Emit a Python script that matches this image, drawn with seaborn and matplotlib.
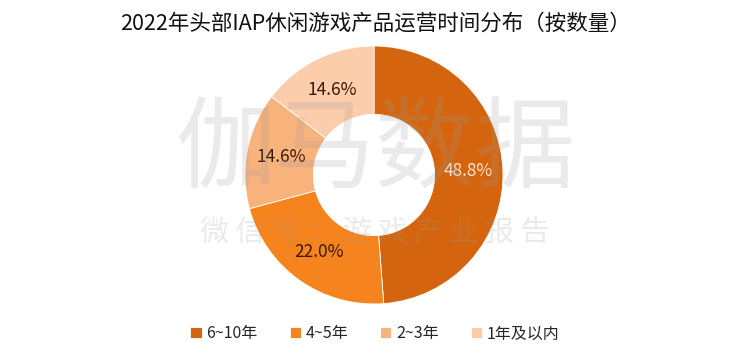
import matplotlib
matplotlib.use("Agg")
import matplotlib.pyplot as plt
import seaborn as sns
import numpy as np

# 数据
categories = ["6~10年", "4~5年", "2~3年", "1年及以内"]
shares = [48.8, 22.0, 14.6, 14.6]
colors = ["#D4650E", "#F5841F", "#F8B27C", "#FBCDAA"]
label_colors = ["#FCE3CF", "#3A1A08", "#3A1A08", "#3A1A08"]

sns.set_style("white")
plt.rcParams['font.family'] = ['Noto Sans CJK SC', 'DejaVu Sans']

fig = plt.figure(figsize=(7.5, 3.59), dpi=100)
ax = fig.add_axes([0.0, 0.0, 1.0, 1.0])

wedges, texts = ax.pie(
    shares,
    colors=colors,
    startangle=90,
    counterclock=False,
    radius=1.0,
    wedgeprops=dict(width=0.53, edgecolor="white", linewidth=0.6),
)

for w, val, tc in zip(wedges, shares, label_colors):
    ang = np.deg2rad((w.theta1 + w.theta2) / 2)
    r = 0.735
    ax.text(r * np.cos(ang), r * np.sin(ang), f"{val:.1f}%",
            ha="center", va="center", fontsize=12.5, color=tc)

ax.set_aspect("equal")
# 圆环位置：中心约 (374,175)，半径约 129px
ax.set_xlim(-374 / 129, (750 - 374) / 129)
ax.set_ylim(-(359 - 175) / 129, 175 / 129)
ax.axis("off")

fig.text(0.5, 0.935, "2022年头部IAP休闲游戏产品运营时间分布（按数量）",
         ha="center", va="center", fontsize=15.5, color="#111111",
         fontweight="medium")

# 水印
fig.text(0.5, 0.58, "伽马数据", ha="center", va="center", fontsize=72,
         color="#9A9A9A", alpha=0.2)
fig.text(0.5, 0.35, "微 信 号 ： 游 戏 产 业 报 告", ha="center", va="center",
         fontsize=21, color="#9A9A9A", alpha=0.2)

fig.legend(wedges, categories, loc="center", bbox_to_anchor=(0.5, 0.07),
           ncol=4, frameon=False, fontsize=11.5, handlelength=0.7,
           handleheight=0.7, handletextpad=0.3, columnspacing=2.0)

fig.savefig("out.png", dpi=100)
